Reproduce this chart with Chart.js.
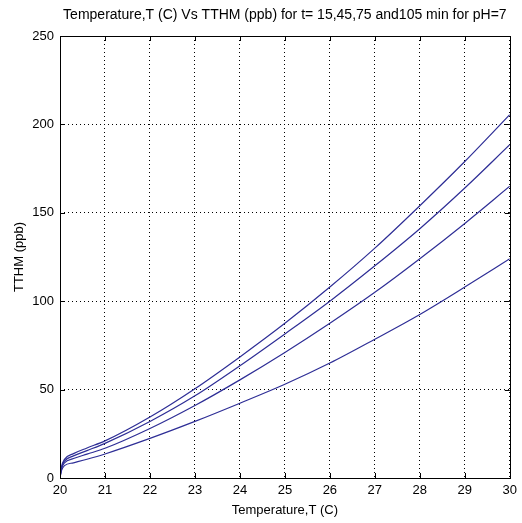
<!DOCTYPE html>
<html>
<head>
<meta charset="utf-8">
<script src="https://cdn.jsdelivr.net/npm/chart.js@4/dist/chart.umd.min.js"></script>
<style>
  html, body { margin: 0; padding: 0; background: #fff; }
  #wrap { width: 522px; height: 523px; }
</style>
</head>
<body>
<div id="wrap"><canvas id="chartTthm" width="522" height="523"></canvas></div>
<script>
// temperature (C) and TTHM (ppb), one array per contact time
const temps   = [20, 20.03, 20.1, 20.3, 20.6, 21, 22, 23, 24, 25, 26, 27, 28, 29, 30]
const tthm15  = [0, 4, 7, 8.6, 10.6, 13.6, 22.4, 32, 42.3, 53, 65, 78.5, 92.5, 108, 124]
const tthm45  = [0, 5, 8.5, 11, 13.5, 16.8, 28, 41, 55.5, 71, 87.5, 105, 124, 144, 165]
const tthm75  = [0, 5.5, 9.5, 12.5, 15.5, 19.6, 32, 46.5, 63.5, 81.5, 100, 120, 141, 164, 188.5]
const tthm105 = [0, 6, 10.5, 13.8, 17, 21, 34.5, 50.5, 68.5, 87.5, 108, 130, 154, 179, 205.5]
const xTicks = [20, 21, 22, 23, 24, 25, 26, 27, 28, 29, 30]
const yTicks = [0, 50, 100, 150, 200, 250]

const titleText = 'Temperature,T (C) Vs TTHM (ppb) for t= 15,45,75 and105 min for pH=7'
const font = 'Liberation Sans, Arial, sans-serif'

const toPoints = (ys) => ys.map((y, i) => ({ x: temps[i], y }))

const series = [tthm15, tthm45, tthm75, tthm105].map((ys, i) => ({
  label: 't=' + [15, 45, 75, 105][i] + ' min',
  data: toPoints(ys),
  borderColor: '#2e2e96',
  borderWidth: 1.2,
  pointRadius: 0,
  fill: false,
  cubicInterpolationMode: 'monotone'
}))

// box around plot, inward ticks and the title (centred over the plot area)
const matlabFrame = {
  id: 'matlabFrame',
  afterDraw (chart) {
    const { ctx, chartArea: a, scales } = chart
    ctx.save()
    ctx.strokeStyle = '#000'
    ctx.lineWidth = 1
    ctx.beginPath()
    xTicks.forEach(v => {
      const px = Math.round(scales.x.getPixelForValue(v)) + 0.5
      ctx.moveTo(px, a.bottom); ctx.lineTo(px, a.bottom - 5)
      ctx.moveTo(px, a.top); ctx.lineTo(px, a.top + 5)
    })
    yTicks.forEach(v => {
      const py = Math.round(scales.y.getPixelForValue(v)) + 0.5
      ctx.moveTo(a.left, py); ctx.lineTo(a.left + 5, py)
      ctx.moveTo(a.right, py); ctx.lineTo(a.right - 5, py)
    })
    ctx.stroke()
    ctx.strokeRect(Math.round(a.left) + 0.5, Math.round(a.top) + 0.5,
      Math.round(a.right - a.left), Math.round(a.bottom - a.top))
    ctx.fillStyle = '#000'
    ctx.font = '14px ' + font
    ctx.textAlign = 'center'
    ctx.textBaseline = 'middle'
    ctx.fillText(titleText, (a.left + a.right) / 2, 15)
    ctx.restore()
  }
}

const ctx = document.getElementById('chartTthm').getContext('2d')
const c = new Chart(ctx, {
  type: 'line',
  data: { datasets: series },
  plugins: [matlabFrame],
  options: {
    responsive: false,
    animation: false,
    layout: { padding: { left: 0, top: 36, right: 11, bottom: 0 } },
    plugins: {
      legend: { display: false },
      tooltip: { enabled: false }
    },
    scales: {
      x: {
        type: 'linear',
        min: 20,
        max: 30,
        afterBuildTicks: (s) => { s.ticks = xTicks.map(v => ({ value: v })) },
        afterFit: (s) => { s.height = 45 },
        ticks: { color: '#000', font: { family: font, size: 13 }, padding: 5, maxRotation: 0 },
        grid: { color: '#000', lineWidth: 1, drawTicks: false },
        border: { display: false, dash: [1, 3] },
        title: { display: true, text: 'Temperature,T (C)', color: '#000', font: { family: font, size: 13 }, padding: { top: 0, bottom: 5 } }
      },
      y: {
        type: 'linear',
        min: 0,
        max: 250,
        afterBuildTicks: (s) => { s.ticks = yTicks.map(v => ({ value: v })) },
        afterFit: (s) => { s.width = 60 },
        ticks: { color: '#000', font: { family: font, size: 13 }, padding: 6 },
        grid: { color: '#000', lineWidth: 1, drawTicks: false },
        border: { display: false, dash: [1, 3] },
        title: { display: true, text: 'TTHM (ppb)', color: '#000', font: { family: font, size: 13 }, padding: { top: 12, bottom: 0 } }
      }
    }
  }
})
</script>
</body>
</html>
